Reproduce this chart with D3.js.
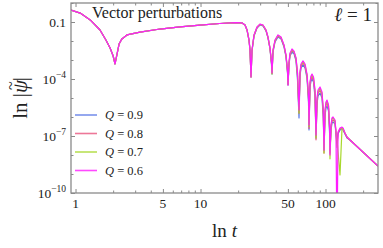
<!DOCTYPE html>
<html>
<head>
<meta charset="utf-8">
<script src="https://cdn.jsdelivr.net/npm/d3@7"></script>
<style>
  body { margin: 0; background: #fff; }
  svg { display: block; font-family: "Liberation Serif", "DejaVu Serif", serif; }
</style>
</head>
<body>
<div id="chart"></div>
<script>
const WIDTH = 383;
const HEIGHT = 248;
const MARGIN = {top: 3, right: 5, bottom: 55, left: 71};

// legend entries, drawn in this order (last one ends on top)
const qLabels = ["0.9", "0.8", "0.7", "0.6"];
const qColors = ["#5a78e6", "#e8557e", "#a8d82c", "#ff1cff"];

// early times: all four runs lie on top of each other
const tEarly = [0.92, 1.09, 1.31, 1.57, 1.75, 1.89, 2.0, 2.07, 2.15, 2.23, 2.35, 2.58,
  3.28, 4.74, 6.86, 9.9, 14.3, 18.9, 21.5, 22.7, 23.55, 24.43];
const logPsiEarly = [-0.37, -0.53, -0.89, -1.42, -1.95, -2.37, -2.79, -3.21, -2.68, -2.16, -1.89, -1.68,
  -1.53, -1.37, -1.26, -1.16, -1.08, -1.03, -1.05, -1.16, -1.42, -1.95];

// ringdown and tail, read per run (log10 |psi|)
const tLate = [24.89, 25.35, 25.82, 26.79, 28.31, 29.92, 31.62, 33.42, 34.67, 35.97, 36.98, 37.33,
  38.02, 39.45, 41.69, 44.06, 46.56, 48.31, 49.66, 50.12,
  51.05, 52.0, 53.95, 55.98, 58.08, 59.7, 61.38,
  62.52, 63.68, 66.07, 68.55, 71.12, 73.11, 73.79,
  75.16, 76.56, 77.98, 80.17, 82.41, 83.95,
  85.51, 87.1, 90.36, 93.76, 96.0, 97.27,
  99.08, 100.9, 102.8, 105.7, 107.7, 108.6,
  110.7, 112.7, 114.8, 119.1, 121.3, 123.6, 125.9, 130.6, 135.5, 138.0, 143.2, 148.6, 157.0, 263.0];

const logPsiQ09 = [-2.5, -3.89, -2.53, -1.74, -1.32, -1.16, -1.21, -1.47, -1.84, -2.42, -3.26, -3.74,
  -2.58, -2.05, -1.79, -1.89, -2.32, -2.84, -3.68, -4.32,
  -3.26, -2.79, -2.58, -2.68, -3.05, -4.05, -6.05,
  -3.84, -3.42, -3.26, -3.42, -3.95, -5.26, -6.68,
  -4.42, -4.11, -4.0, -4.16, -4.95, -7.11,
  -5.32, -4.89, -4.74, -5.0, -6.05, -7.74,
  -5.95, -5.53, -5.42, -5.68, -6.79, -7.74,
  -6.68, -6.32, -6.26, -6.37, -6.89, -7.37, -6.89, -6.68, -6.63, -6.68, -6.89, -7.11, -7.21, -8.58];

const logPsiQ08 = [-2.47, -3.89, -2.5, -1.71, -1.29, -1.13, -1.18, -1.45, -1.82, -2.4, -3.16, -3.71,
  -2.53, -2.0, -1.74, -1.84, -2.26, -2.79, -3.6, -4.3,
  -3.2, -2.72, -2.5, -2.6, -2.97, -3.84, -5.8,
  -3.74, -3.32, -3.16, -3.32, -3.84, -5.0, -6.6,
  -4.3, -4.0, -3.89, -4.05, -4.74, -7.2,
  -5.2, -4.74, -4.6, -4.84, -5.84, -7.9,
  -5.8, -5.37, -5.26, -5.53, -6.6, -7.9,
  -6.58, -6.2, -6.16, -6.26, -6.84, -7.6, -6.84, -6.63, -6.58, -6.63, -6.87, -7.08, -7.21, -8.58];

const logPsiQ07 = [-2.47, -3.89, -2.48, -1.7, -1.28, -1.12, -1.17, -1.43, -1.8, -2.38, -3.13, -3.74,
  -2.5, -1.97, -1.71, -1.81, -2.24, -2.76, -3.56, -4.26,
  -3.16, -2.68, -2.47, -2.56, -2.92, -3.7, -5.8,
  -3.68, -3.26, -3.1, -3.26, -3.79, -4.9, -6.5,
  -4.22, -3.9, -3.8, -3.95, -4.64, -7.1,
  -5.1, -4.66, -4.5, -4.75, -5.7, -7.9,
  -5.7, -5.27, -5.16, -5.42, -6.5, -8.2,
  -6.5, -6.1, -6.05, -6.2, -6.84, -7.2, -7.8, -9.05, -6.6, -6.6, -6.84, -7.05, -7.21, -8.58];

const logPsiQ06 = [-2.47, -3.89, -2.47, -1.68, -1.26, -1.11, -1.16, -1.42, -1.79, -2.37, -3.11, -3.68,
  -2.47, -1.95, -1.68, -1.79, -2.21, -2.74, -3.53, -4.32,
  -3.11, -2.63, -2.42, -2.53, -2.89, -3.63, -5.63,
  -3.63, -3.21, -3.05, -3.21, -3.74, -4.84, -6.42,
  -4.16, -3.84, -3.74, -3.89, -4.58, -6.95,
  -5.0, -4.58, -4.42, -4.68, -5.63, -7.74,
  -5.63, -5.21, -5.11, -5.37, -6.42, -8.0,
  -6.42, -6.05, -6.0, -6.16, -6.79, -13, -6.79, -6.58, -6.53, -6.58, -6.84, -7.05, -7.21, -8.58];

const lateRuns = [logPsiQ09, logPsiQ08, logPsiQ07, logPsiQ06];

const xMajorTicks = [1, 5, 10, 50, 100];
const xMinorTicks = [2, 3, 4, 6, 7, 8, 9, 20, 30, 40, 60, 70, 80, 90, 200];
const yMajorTicks = [0.1, 1e-4, 1e-7, 1e-10];
const yMajorExps = [null, "\u22124", "\u22127", "\u221210"];
const yMinorTicks = [1, 1e-2, 1e-3, 1e-5, 1e-6, 1e-8, 1e-9];

const innerW = WIDTH - MARGIN.left - MARGIN.right;
const innerH = HEIGHT - MARGIN.top - MARGIN.bottom;

const svg = d3.select("#chart").append("svg")
  .attr("width", WIDTH)
  .attr("height", HEIGHT);

const x = d3.scaleLog().domain([0.92, 263]).range([MARGIN.left, MARGIN.left + innerW]);
const y = d3.scaleLog().domain([1e-10, 1]).range([MARGIN.top + innerH, MARGIN.top]);

svg.append("clipPath").attr("id", "plot-clip")
  .append("rect")
  .attr("x", MARGIN.left).attr("y", MARGIN.top)
  .attr("width", innerW).attr("height", innerH);

// curves
const line = d3.line()
  .x(d => x(d[0]))
  .y(d => y(Math.pow(10, d[1])));

const curves = svg.append("g").attr("clip-path", "url(#plot-clip)");
lateRuns.forEach((run, i) => {
  let pts = tEarly.map((t, j) => [t, logPsiEarly[j]])
    .concat(tLate.map((t, j) => [t, run[j]]));
  curves.append("path")
    .attr("d", line(pts))
    .attr("fill", "none")
    .attr("stroke", qColors[i])
    .attr("stroke-width", 1.2)
    .attr("stroke-linejoin", "round");
});

// frame and ticks
const axisColor = "#8a8a8a";

function drawAxis(axisFn, scale, values, size, transform) {
  let g = svg.append("g")
    .attr("transform", transform)
    .call(axisFn(scale).tickValues(values).tickSize(size).tickFormat(""));
  g.select(".domain").remove();
  g.selectAll("line").attr("stroke", axisColor).attr("stroke-width", 1);
}

drawAxis(d3.axisTop, x, xMajorTicks, 4, `translate(0,${MARGIN.top + innerH})`);
drawAxis(d3.axisTop, x, xMinorTicks, 2.5, `translate(0,${MARGIN.top + innerH})`);
drawAxis(d3.axisBottom, x, xMajorTicks, 4, `translate(0,${MARGIN.top})`);
drawAxis(d3.axisBottom, x, xMinorTicks, 2.5, `translate(0,${MARGIN.top})`);
drawAxis(d3.axisRight, y, yMajorTicks, 4, `translate(${MARGIN.left},0)`);
drawAxis(d3.axisRight, y, yMinorTicks, 2.5, `translate(${MARGIN.left},0)`);
drawAxis(d3.axisLeft, y, yMajorTicks, 4, `translate(${MARGIN.left + innerW},0)`);
drawAxis(d3.axisLeft, y, yMinorTicks, 2.5, `translate(${MARGIN.left + innerW},0)`);

svg.append("rect")
  .attr("x", MARGIN.left).attr("y", MARGIN.top)
  .attr("width", innerW).attr("height", innerH)
  .attr("fill", "none")
  .attr("stroke", axisColor)
  .attr("stroke-width", 1.3);

// tick labels
svg.append("g").selectAll("text")
  .data(xMajorTicks)
  .join("text")
  .attr("x", d => x(d))
  .attr("y", MARGIN.top + innerH + 15)
  .attr("text-anchor", "middle")
  .attr("font-size", 13.5)
  .attr("fill", "#222")
  .text(d => d);

let yLabels = svg.append("g").selectAll("text")
  .data(yMajorTicks)
  .join("text")
  .attr("x", MARGIN.left - 5)
  .attr("y", d => y(d) + 4.5)
  .attr("text-anchor", "end")
  .attr("font-size", 13.5)
  .attr("fill", "#222");

yLabels.each(function(d, i) {
  let t = d3.select(this);
  if (yMajorExps[i] == null) {
    t.text("0.1");
  } else {
    t.append("tspan").text("10");
    t.append("tspan").attr("font-size", 9.5).attr("dy", -6).text(yMajorExps[i]);
  }
});

// axis titles
let yTitle = svg.append("text")
  .attr("transform", `translate(27,${MARGIN.top + innerH / 2}) rotate(-90)`)
  .attr("text-anchor", "middle")
  .attr("font-size", 21)
  .attr("fill", "#222");
yTitle.append("tspan").text("ln |");
yTitle.append("tspan").attr("font-style", "italic").text("\u03C8");
yTitle.append("tspan").attr("dx", -10).attr("dy", -11).attr("font-size", 16).text("~");
yTitle.append("tspan").attr("dx", 0).attr("dy", 11).text("|");

let xTitle = svg.append("text")
  .attr("x", MARGIN.left + innerW / 2)
  .attr("y", 237)
  .attr("text-anchor", "middle")
  .attr("font-size", 19)
  .attr("fill", "#222");
xTitle.append("tspan").text("ln ");
xTitle.append("tspan").attr("font-style", "italic").text("t");

// panel annotations
svg.append("text")
  .attr("x", 92)
  .attr("y", 18)
  .attr("font-size", 16)
  .attr("fill", "#222")
  .text("Vector perturbations");

let ell = svg.append("text")
  .attr("x", 372)
  .attr("y", 21)
  .attr("text-anchor", "end")
  .attr("font-size", 19)
  .attr("fill", "#222");
ell.append("tspan").attr("font-style", "italic").text("\u2113");
ell.append("tspan").text(" = 1");

// legend
const legend = svg.append("g");
qLabels.forEach((q, i) => {
  let ly = 115 + i * 18.5;
  legend.append("line")
    .attr("x1", 75).attr("x2", 97)
    .attr("y1", ly).attr("y2", ly)
    .attr("stroke", qColors[i])
    .attr("stroke-opacity", 0.8)
    .attr("stroke-width", 1.6);
  let lt = legend.append("text")
    .attr("x", 105)
    .attr("y", ly + 4)
    .attr("font-size", 12.5)
    .attr("fill", "#222");
  lt.append("tspan").attr("font-style", "italic").text("Q");
  lt.append("tspan").text(" = " + q);
});
</script>
</body>
</html>
